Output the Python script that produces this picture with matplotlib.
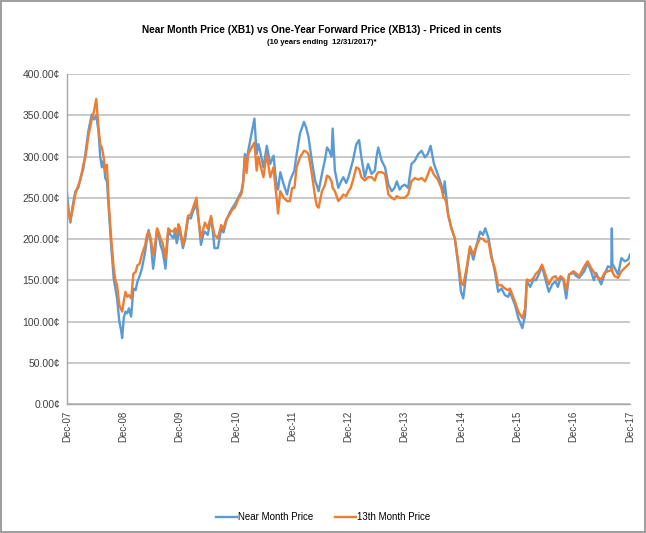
import numpy as np
import matplotlib
matplotlib.use('Agg')
import matplotlib.pyplot as plt
from matplotlib.patches import Rectangle

# years since start of chart (Dec-07 tick = 0)
t_years = [
    0.00, 0.03, 0.06, 0.10, 0.15, 0.20, 0.24, 0.29, 0.33, 0.38, 0.44, 0.48,
    0.52, 0.56, 0.59, 0.62, 0.65, 0.68, 0.71, 0.74, 0.78, 0.83, 0.86, 0.89,
    0.93, 0.96, 0.98, 1.01, 1.04, 1.07, 1.10, 1.14, 1.18, 1.22, 1.25, 1.29,
    1.33, 1.39, 1.42, 1.45, 1.49, 1.53, 1.56, 1.60, 1.63, 1.66, 1.70, 1.75,
    1.80, 1.84, 1.89, 1.92, 1.95, 1.98, 2.00, 2.06, 2.10, 2.15, 2.20, 2.24,
    2.30, 2.34, 2.38, 2.42, 2.45, 2.50, 2.56, 2.59, 2.62, 2.68, 2.74, 2.78,
    2.83, 2.89, 2.94, 2.98, 3.04, 3.10, 3.13, 3.16, 3.19, 3.22, 3.28, 3.33,
    3.37, 3.40, 3.43, 3.49, 3.52, 3.55, 3.61, 3.67, 3.70, 3.73, 3.75, 3.79,
    3.85, 3.91, 3.96, 4.00, 4.04, 4.08, 4.14, 4.21, 4.25, 4.29, 4.35, 4.41,
    4.44, 4.47, 4.53, 4.58, 4.62, 4.66, 4.70, 4.72, 4.76, 4.82, 4.87, 4.91,
    4.96, 5.00, 5.04, 5.08, 5.14, 5.19, 5.23, 5.29, 5.35, 5.41, 5.47, 5.50,
    5.53, 5.59, 5.65, 5.71, 5.77, 5.82, 5.86, 5.91, 5.95, 6.00, 6.06, 6.12,
    6.18, 6.24, 6.30, 6.36, 6.41, 6.46, 6.52, 6.59, 6.65, 6.69, 6.71, 6.74,
    6.77, 6.83, 6.89, 6.95, 7.00, 7.04, 7.10, 7.16, 7.22, 7.28, 7.34, 7.39,
    7.43, 7.49, 7.54, 7.60, 7.66, 7.72, 7.78, 7.84, 7.87, 7.96, 8.02, 8.09,
    8.14, 8.17, 8.23, 8.29, 8.33, 8.38, 8.44, 8.50, 8.56, 8.62, 8.68, 8.72,
    8.77, 8.82, 8.87, 8.92, 9.00, 9.05, 9.10, 9.19, 9.25, 9.31, 9.36, 9.40,
    9.49, 9.55, 9.61, 9.67, 9.68, 9.69, 9.73, 9.79, 9.85, 9.91, 9.97, 10.00,
]

# near month price (XB1), cents
near_month = [
    256, 235, 220, 240, 258, 262, 274, 285, 305, 331, 351, 345,
    350, 331, 300, 287, 295, 274, 270, 238, 197, 152, 140, 128,
    100, 90, 80, 105, 112, 110, 116, 106, 140, 138, 148, 155,
    164, 185, 200, 211, 195, 164, 180, 211, 205, 193, 185, 164,
    211, 205, 201, 209, 195, 205, 213, 189, 200, 226, 225, 234,
    242, 222, 193, 205, 209, 205, 226, 210, 189, 189, 213, 208,
    222, 232, 238, 242, 250, 258, 270, 303, 295, 307, 328, 346,
    303, 315, 307, 287, 300, 313, 291, 301, 280, 262, 260, 281,
    266, 254, 270, 277, 283, 303, 328, 342, 335, 324, 295, 270,
    265, 258, 279, 295, 311, 307, 300, 334, 283, 262, 270, 275,
    268, 275, 285, 295, 315, 320, 299, 275, 291, 279, 283, 300,
    311, 295, 287, 266, 258, 262, 270, 260, 264, 266, 262, 291,
    295, 303, 307, 299, 303, 313, 291, 278, 266, 255, 270, 250,
    230, 213, 201, 169, 136, 128, 161, 189, 175, 193, 209, 205,
    213, 201, 181, 161, 136, 140, 132, 130, 136, 120, 104, 92,
    108, 149, 142, 151, 150, 157, 167, 151, 136, 145, 149, 142,
    153, 150, 128, 157, 159, 155, 153, 161, 171, 161, 150, 159,
    145, 157, 167, 165, 213, 170, 165, 157, 177, 173, 175, 181,
]

# 13th month price (XB13), cents
month_13 = [
    245, 232, 222, 236, 255, 265, 272, 290, 300, 325, 345, 355,
    370, 335, 315, 311, 300, 282, 290, 245, 205, 165, 150, 144,
    120, 115, 112, 125, 136, 130, 132, 128, 158, 160, 168, 170,
    181, 193, 205, 209, 200, 181, 190, 213, 208, 201, 195, 177,
    213, 210, 209, 213, 205, 218, 215, 193, 205, 228, 230, 238,
    250, 222, 201, 212, 220, 213, 228, 215, 205, 201, 217, 212,
    224, 230, 236, 238, 248, 255, 268, 299, 280, 303, 311, 317,
    283, 300, 291, 275, 290, 303, 275, 287, 265, 246, 231, 258,
    250, 246, 246, 262, 262, 287, 299, 307, 306, 303, 279, 250,
    240, 238, 258, 265, 277, 275, 270, 262, 258, 246, 250, 254,
    252, 258, 262, 271, 287, 285, 275, 271, 275, 275, 271, 278,
    281, 281, 279, 254, 250, 248, 252, 250, 250, 250, 254, 270,
    274, 272, 274, 270, 278, 287, 278, 272, 262, 250, 250, 244,
    230, 213, 201, 173, 148, 144, 165, 191, 181, 193, 201, 200,
    197, 197, 177, 165, 144, 144, 140, 138, 140, 124, 112, 104,
    116, 151, 149, 153, 158, 161, 169, 157, 145, 153, 155, 150,
    155, 152, 138, 157, 161, 158, 155, 167, 173, 165, 160, 155,
    151, 159, 161, 162, 165, 160, 155, 153, 161, 165, 169, 171,
]

tick_labels = ['Dec-07', 'Dec-08', 'Dec-09', 'Dec-10', 'Dec-11', 'Dec-12',
               'Dec-13', 'Dec-14', 'Dec-15', 'Dec-16', 'Dec-17']
y_ticks = [0, 50, 100, 150, 200, 250, 300, 350, 400]

FONT = ['Liberation Sans', 'DejaVu Sans']
BLUE = '#5B9BD5'
ORANGE = '#ED7D31'
GRID = '#C0C0C0'
TXT = '#404040'

x = 2008 + np.array(t_years)

fig = plt.figure(figsize=(6.46, 5.33), dpi=100)
ax = fig.add_axes([0.1037, 0.242, 0.8713, 0.619])

ax.plot(x, near_month, color=BLUE, lw=1.7, label='Near Month Price')
ax.plot(x, month_13, color=ORANGE, lw=1.7, label='13th Month Price')

ax.set_xlim(2008, 2018)
ax.set_ylim(0, 400)
ax.set_yticks(y_ticks)
ax.set_yticklabels([f'{v:.2f}\u00a2' for v in y_ticks], family=FONT,
                   fontsize=7.5, color=TXT)
ax.set_xticks(np.arange(2008, 2019))
ax.set_xticklabels(tick_labels, rotation=90, family=FONT, fontsize=7,
                   color=TXT)
ax.tick_params(length=0, pad=5)
ax.grid(axis='y', color=GRID, lw=1.2)
ax.set_axisbelow(True)
for s in ['top', 'right']:
    ax.spines[s].set_visible(False)
for s in ['left', 'bottom']:
    ax.spines[s].set_color('#A6A6A6')
    ax.spines[s].set_linewidth(1.0)

fig.text(0.498, 0.944, 'Near Month Price (XB1) vs One-Year Forward Price (XB13) - Priced in cents',
         ha='center', va='center', fontsize=7.3, fontweight='bold', family=FONT,
         color='#000000')
fig.text(0.498, 0.920, '(10 years ending  12/31/2017)*', ha='center',
         va='center', fontsize=5.6, fontweight='bold', family=FONT)

fig.legend(loc='center', bbox_to_anchor=(0.5, 0.03), ncol=2, frameon=False,
           prop={'family': FONT, 'size': 7}, handlelength=2.2,
           columnspacing=2.2, handletextpad=0.1)

fig.patches.append(Rectangle((0.002, 0.002), 0.996, 0.996,
                             transform=fig.transFigure, fill=False,
                             edgecolor='#8C8C8C', lw=1.2))

fig.savefig('out.png', dpi=100)
